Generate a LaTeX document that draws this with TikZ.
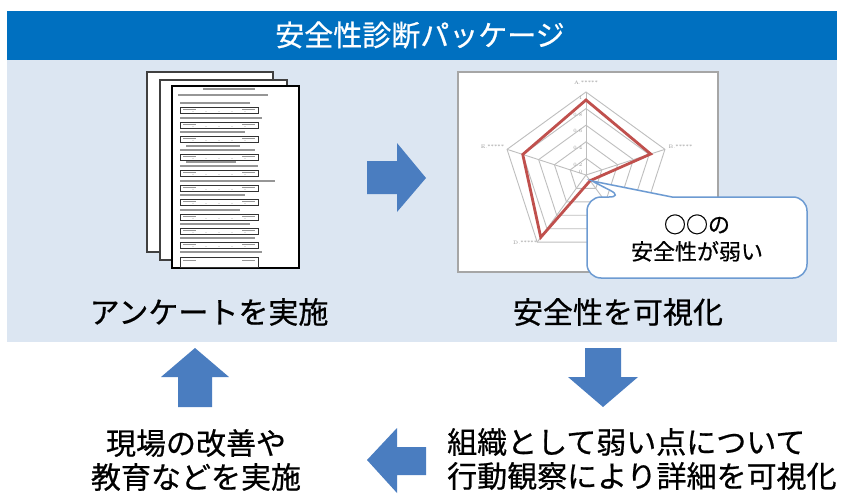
\documentclass[tikz,border=0pt]{standalone}
\usepackage{fontspec}
\newfontfamily\jp[FakeBold=0.6]{Noto Sans CJK JP}
\definecolor{hdrblue}{RGB}{0,112,192}
\definecolor{panelblue}{RGB}{220,230,242}
\definecolor{arrblue}{RGB}{74,125,192}
\definecolor{callb}{RGB}{109,155,210}
\definecolor{radred}{RGB}{192,80,77}
\definecolor{ringgray}{RGB}{190,190,190}
\definecolor{framegray}{RGB}{166,166,166}
\tikzset{
  pageback/.style={fill=white, draw={rgb,255:red,64;green,64;blue,64}, line width=1.2},
  pagefront/.style={fill=white, draw=black, line width=2},
  doctext/.style={draw={rgb,255:red,150;green,150;blue,150}, line width=1.1},
  docbox/.style={draw={rgb,255:red,50;green,50;blue,50}, line width=0.9},
  ring/.style={draw=ringgray, line width=0.9},
  tiny/.style={text={rgb,255:red,150;green,150;blue,150}, font=\fontsize{5}{6}\selectfont, inner sep=0.5},
  blockarrow/.style={fill=arrblue, draw=none},
  biglabel/.style={font=\jp\fontsize{30}{34}\selectfont, inner sep=0},
}
\begin{document}
\begin{tikzpicture}[x=1pt,y=-1pt]
\useasboundingbox (0,0) rectangle (846,495);
\fill[white] (0,0) rectangle (846,495);
% panel and header
\fill[panelblue] (7,60) rectangle (837,342);
\fill[hdrblue] (7,11) rectangle (837,60);
\node[text=white, font=\jp\fontsize{29}{32}\selectfont, inner sep=0] (title) at (420,35) {安全性診断パッケージ};

% questionnaire pages
\draw[pageback] (147,72) rectangle (273,252);
\draw[pageback] (160,80) rectangle (287,260);
\draw[pagefront] (172,86) rectangle (299,268);
\draw[doctext, line width=1.6] (203,89) -- (255,89);
\draw[doctext] (178,95) -- (268,95);
\foreach \yb/\len in {107/250, 122/262, 136/245, 154/255, 170/258, 185/275, 199/245, 214/240, 228/250, 242/255} {
  \draw[doctext] (180,\yb-4) -- (\len,\yb-4);
  \draw[docbox] (180,\yb) rectangle (258,\yb+6);
  \draw[doctext, line width=0.6] (183,\yb+2) -- (196,\yb+2);
  \draw[doctext, line width=0.6] (242,\yb+2) -- (255,\yb+2);
  \foreach \xx in {193,206,219,232,245} \fill[gray] (\xx,\yb+4.5) circle (0.45);
}
\draw[doctext] (186,146) -- (240,146);
\draw[doctext] (186,162) -- (236,162);
\draw[doctext] (180,252) -- (262,252);
\draw[docbox] (180,257) rectangle (258,267);
\draw[doctext, line width=0.6] (183,260) -- (196,260);
\draw[doctext, line width=0.6] (242,260) -- (255,260);

% radar chart
\draw[fill=white, draw=framegray, line width=1.5] (458,72) rectangle (718,272);
\begin{scope}[shift={(586,175)}]
  \foreach \k in {1,...,5} {
    \pgfmathsetmacro\rr{16.6*\k}
    \draw[ring] (-90:\rr) -- (-18:\rr) -- (54:\rr) -- (126:\rr) -- (198:\rr) -- cycle;
  }
  \foreach \a in {-90,-18,54,126,198} \draw[ring] (0,0) -- (\a:83);
  \draw[radred, line width=2.8, line join=miter] (-90:75) -- (-18:68) -- (54:7) -- (126:77) -- (198:66.5) -- cycle;
  \node[tiny, anchor=east] (t10) at (-3,-77) {1};
  \node[tiny, anchor=east] (t08) at (-3,-60.4) {0.8};
  \node[tiny, anchor=east] (t06) at (-3,-43.8) {0.6};
  \node[tiny, anchor=east] (t04) at (-3,-27.2) {0.4};
  \node[tiny, anchor=east] (t02) at (-3,-10.6) {0.2};
  \node[tiny, anchor=east] (t00) at (-3,-3) {0};
  \node[tiny, anchor=south] (axA) at (0,-90) {A.*****};
  \node[tiny, anchor=west] (axB) at (82,-28) {B.*****};
  \node[tiny, anchor=east] (axE) at (-81,-28) {E.*****};
  \node[tiny, anchor=east] (axD) at (-48,68) {D.*****};
\end{scope}

% callout
\draw[fill=white, draw=callb, line width=1.5, rounded corners=14pt]
  (672,197) -- (807,197) -- (807,278) -- (587,278) -- (587,197) -- (623,197)
  [sharp corners] -- (592,181) -- cycle;
\node[font=\jp\fontsize{22}{27}\selectfont, align=center, inner sep=0] (ctext) at (697,238) {○○の\\安全性が弱い};

% labels
\node[biglabel] (lab1) at (209,312) {アンケートを実施};
\node[biglabel] (lab2) at (618,312) {安全性を可視化};
\node[biglabel, align=center] (lab3) at (196,460) {現場の改善や\\教育などを実施};
\node[biglabel, align=left, anchor=west] (lab4) at (447,459) {組織として弱い点について\\行動観察により詳細を可視化};

% block arrows
\fill[blockarrow] (367,161) -- (397,161) -- (397,143) -- (426,178) -- (397,212) -- (397,194) -- (367,194) -- cycle;
\fill[blockarrow] (585,348) -- (621,348) -- (621,377) -- (638,377) -- (603,407) -- (568,377) -- (585,377) -- cycle;
\fill[blockarrow] (195,348) -- (229,377) -- (212,377) -- (212,407) -- (178,407) -- (178,377) -- (161,377) -- cycle;
\fill[blockarrow] (367,460) -- (397,428) -- (397,447) -- (426,447) -- (426,475) -- (397,475) -- (397,493) -- cycle;
\end{tikzpicture}
\end{document}
